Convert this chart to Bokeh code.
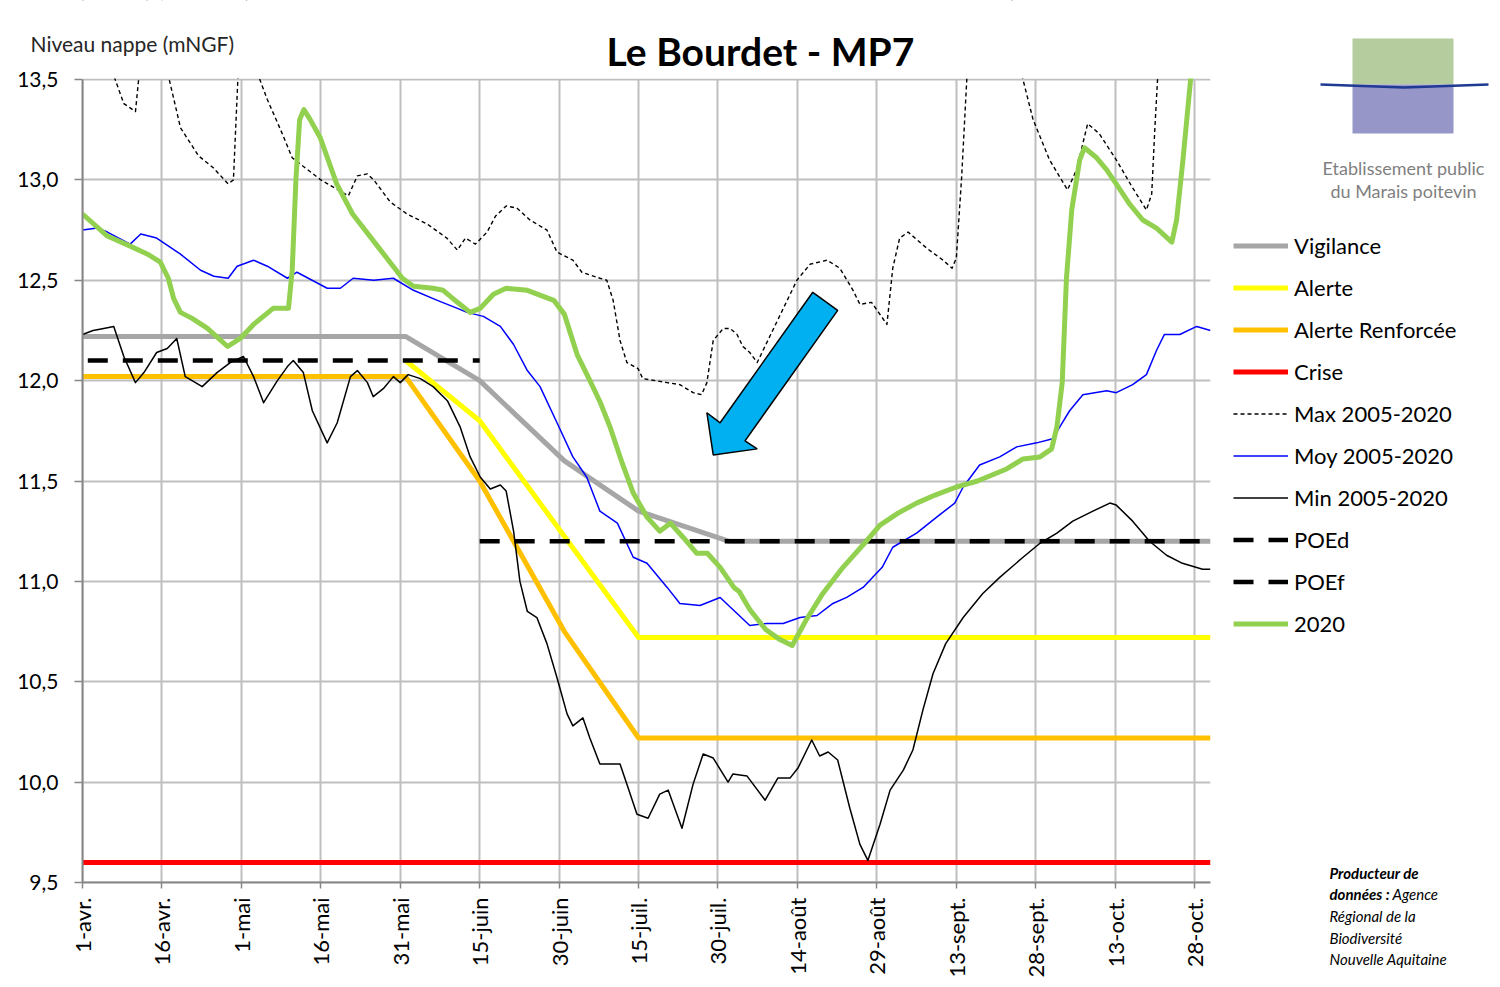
import math
from bokeh.plotting import figure
from bokeh.models import (Range1d, FixedTicker, Legend, LegendItem, Label, Grid,
                          BoxAnnotation, PolyAnnotation)
from bokeh.embed import file_html
from bokeh.resources import INLINE

# ---------------- axes ----------------
tick_days = [0, 15, 30, 45, 60, 75, 90, 105, 120, 135, 150, 165, 180, 195, 210]
tick_labels = ["1-avr.", "16-avr.", "1-mai", "16-mai", "31-mai", "15-juin", "30-juin",
               "15-juil.", "30-juil.", "14-août", "29-août", "13-sept.", "28-sept.",
               "13-oct.", "28-oct."]
y_ticks = [9.5, 10.0, 10.5, 11.0, 11.5, 12.0, 12.5, 13.0, 13.5]
y_tick_labels = ["9,5", "10,0", "10,5", "11,0", "11,5", "12,0", "12,5", "13,0", "13,5"]
DAY_MIN, DAY_MAX = 0, 213
LEVEL_MIN, LEVEL_MAX = 9.5, 13.5

# ---------------- thresholds (day index from 1 April) ----------------
vig_d = [0, 61, 75, 91, 105, 122, 213]
vig_v = [12.22, 12.22, 12.0, 11.6, 11.35, 11.2, 11.2]
alerte_d = [61, 75, 105, 213]
alerte_v = [12.1, 11.8, 10.72, 10.72]
renf_d = [0, 61, 75, 91, 105, 213]
renf_v = [12.02, 12.02, 11.5, 10.75, 10.22, 10.22]
crise_d = [0, 213]
crise_v = [9.6, 9.6]
poed_d = [75, 213]
poed_v = [11.2, 11.2]
poef_d = [1, 75]
poef_v = [12.1, 12.1]

# ---------------- Max 2005-2020 ----------------
max_d = [0, 3, 5.9, 7.8, 10, 10.6, 11.5, 13, 15, 16.2, 18.5, 21.9, 24.7, 27.5, 28.5, 29.5, 31,
         33.2, 34.9, 37.4, 39.6, 45, 50.2, 51.9, 53.8, 55, 58.1, 61.3, 65.1, 68.8, 70.8, 72.3,
         74.2, 76.4, 78, 80, 82, 84.5, 87.7, 89.6, 92.6, 94.3, 97.7, 99, 100.2, 101.5, 102.8,
         104.9, 105.8, 110.4, 112.8, 115.3, 116.9, 117.9, 119.1, 121, 122.3, 123.6, 124.7,
         126, 127.4, 134.9, 137.4, 140.6, 143, 145.5, 146.8, 149, 151.9, 153, 154.3, 155.9,
         159.4, 162.5, 164.2, 165, 166, 167, 169, 172, 175, 177.4, 179.5, 182.6, 186, 187.7,
         189.8, 192, 195.2, 198.3, 200.9, 201.9, 202.5, 203, 205, 209, 213]
max_v = [13.9, 13.7, 13.52, 13.38, 13.34, 13.5, 13.8, 14.0, 13.9, 13.52, 13.26, 13.12, 13.06,
         12.98, 13.0, 13.6, 13.9, 13.52, 13.40, 13.25, 13.11, 13.0, 12.92, 13.02, 13.03, 13.00,
         12.89, 12.83, 12.78, 12.71, 12.65, 12.71, 12.68, 12.74, 12.82, 12.87, 12.86, 12.80,
         12.75, 12.64, 12.60, 12.54, 12.51, 12.50, 12.40, 12.20, 12.09, 12.06, 12.01, 11.99,
         11.98, 11.94, 11.93, 11.99, 12.20, 12.26, 12.26, 12.23, 12.17, 12.14, 12.09, 12.50,
         12.58, 12.60, 12.56, 12.45, 12.38, 12.39, 12.28, 12.56, 12.71, 12.74, 12.66, 12.60,
         12.56, 12.61, 13.01, 13.51, 14.0, 14.2, 14.0, 13.52, 13.30, 13.10, 12.95, 13.05,
         13.28, 13.23, 13.10, 12.96, 12.85, 12.93, 13.26, 13.5, 13.9, 14.1, 14.2]

# ---------------- Moy 2005-2020 ----------------
moy_d = [0, 2.8, 4.7, 9, 11, 14, 18.5, 22.3, 24.8, 27.5, 29.2, 32.3, 34.9, 38.7, 40.5, 46.2,
         48.7, 51.1, 55, 58.7, 62.5, 67, 70.8, 72.6, 75.7, 78.9, 81.4, 84, 86.4, 89.6, 92.6,
         95.2, 97.7, 101, 104, 106.6, 110.4, 112.8, 116.6, 120.4, 122.8, 126, 129.2, 132.3,
         135.5, 138.7, 141.7, 144.3, 147.4, 151, 153, 157.5, 161.3, 164.7, 166.3, 169.4, 173.2,
         176.4, 180.2, 183.2, 185, 186.4, 188.9, 193.4, 195.2, 198.3, 200.9, 202.8, 204.3,
         207.2, 210.4, 213]
moy_v = [12.75, 12.76, 12.74, 12.68, 12.73, 12.71, 12.63, 12.55, 12.52, 12.51, 12.57, 12.60,
         12.57, 12.51, 12.54, 12.46, 12.46, 12.51, 12.50, 12.51, 12.45, 12.40, 12.36, 12.34,
         12.32, 12.27, 12.18, 12.05, 11.97, 11.79, 11.62, 11.52, 11.35, 11.29, 11.12, 11.09,
         10.97, 10.89, 10.88, 10.92, 10.86, 10.78, 10.79, 10.79, 10.82, 10.83, 10.89, 10.92,
         10.97, 11.07, 11.17, 11.24, 11.32, 11.39, 11.47, 11.58, 11.62, 11.67, 11.69, 11.71,
         11.79, 11.85, 11.93, 11.95, 11.94, 11.98, 12.03, 12.15, 12.23, 12.23, 12.27, 12.25]

# ---------------- Min 2005-2020 ----------------
min_d = [0, 2, 4, 5.9, 7.8, 10, 11.6, 14, 16, 17.8, 19.4, 20.7, 22.6, 25.4, 27.9, 30.4, 32.3,
         34.2, 36.8, 38.7, 39.8, 41.7, 43.4, 46.2, 48.1, 50.6, 51.9, 53.8, 54.9, 56.8, 58.7,
         60, 61.5, 63.8, 66.2, 68.9, 71.3, 73.2, 75.1, 77, 78.9, 80, 81.4, 82.6, 84, 85.8,
         87.7, 89.6, 91.5, 92.6, 94.5, 95.8, 97.7, 101.5, 102.8, 104.7, 106.8, 109, 110.6,
         113.2, 115.3, 117.2, 119.1, 121.9, 122.8, 125.5, 128.9, 131.3, 133.6, 135.1, 137.7,
         139.2, 140.8, 142.6, 144.9, 146.8, 148.3, 150.6, 152.5, 155, 156.8, 158.7, 160.6,
         163, 166.3, 170, 173.2, 177.6, 180.8, 184, 187, 190.8, 194, 195.2, 198.3, 201.5,
         204.7, 207.7, 211.5, 213]
min_v = [12.23, 12.25, 12.26, 12.27, 12.12, 11.99, 12.04, 12.14, 12.16, 12.21, 12.02, 12.00,
         11.97, 12.04, 12.09, 12.12, 12.02, 11.89, 12.00, 12.07, 12.10, 12.04, 11.85, 11.69,
         11.79, 12.02, 12.05, 11.99, 11.92, 11.96, 12.02, 11.99, 12.03, 12.01, 11.97, 11.90,
         11.77, 11.62, 11.52, 11.46, 11.48, 11.45, 11.25, 11.00, 10.85, 10.82, 10.69, 10.52,
         10.34, 10.28, 10.32, 10.22, 10.09, 10.09, 9.99, 9.84, 9.82, 9.94, 9.96, 9.77, 9.99,
         10.14, 10.12, 10.00, 10.04, 10.03, 9.91, 10.02, 10.02, 10.07, 10.21, 10.13, 10.15,
         10.11, 9.87, 9.69, 9.61, 9.79, 9.96, 10.06, 10.16, 10.36, 10.54, 10.69, 10.82, 10.94,
         11.02, 11.12, 11.19, 11.24, 11.30, 11.35, 11.39, 11.38, 11.30, 11.20, 11.13, 11.09,
         11.06, 11.06]

# ---------------- 2020 ----------------
y2020_d = [0, 4.7, 9, 12.3, 14.7, 16.2, 17.2, 18.5, 20.7, 23.6, 27.4, 29.8, 32.3, 36, 38.9,
           39.6, 40.3, 41, 41.8, 43, 44.9, 48, 51, 56, 60.4, 62.5, 66.2, 68.1, 70.8, 73.2, 75.1,
           77.6, 80, 84, 89, 91, 93.4, 96, 97.8, 99.6, 101.9, 104, 106.6, 109, 111, 113.4, 116,
           118, 120.4, 123, 124, 126, 129, 131.7, 134, 136.7, 139.8, 143.6, 148, 150.6, 154,
           157.5, 161, 165, 169, 174.5, 177.6, 180.8, 183, 184, 185, 185.8, 186.8, 188.3,
           189.2, 191.5, 193.4, 195.2, 197.7, 200.2, 202.8, 205.7, 206.6, 207.8, 208.7, 209.6,
           210.5]
y2020_v = [12.83, 12.72, 12.67, 12.63, 12.59, 12.51, 12.41, 12.34, 12.31, 12.26, 12.17, 12.21,
           12.28, 12.36, 12.36, 12.55, 13.0, 13.3, 13.35, 13.3, 13.21, 12.98, 12.83, 12.66,
           12.51, 12.47, 12.46, 12.45, 12.39, 12.34, 12.36, 12.43, 12.46, 12.45, 12.40, 12.33,
           12.13, 11.99, 11.89, 11.77, 11.59, 11.44, 11.32, 11.25, 11.29, 11.22, 11.14, 11.14,
           11.07, 10.97, 10.95, 10.86, 10.76, 10.71, 10.68, 10.81, 10.94, 11.07, 11.20, 11.28,
           11.34, 11.39, 11.43, 11.47, 11.50, 11.56, 11.61, 11.62, 11.66, 11.77, 11.99, 12.51,
           12.85, 13.10, 13.16, 13.11, 13.05, 12.98, 12.88, 12.80, 12.76, 12.69, 12.80, 13.10,
           13.35, 13.6, 13.8]

# ---------------- block arrow (day, level) ----------------
arrow_d = [137.9, 142.6, 125.1, 127.4, 119.1, 117.9, 120.4]
arrow_v = [12.44, 12.35, 11.70, 11.66, 11.63, 11.84, 11.79]

FONT = "Lato"

series_styles = [
    ("Vigilance", "#A6A6A6", 5, "solid"),
    ("Alerte", "#FFFF00", 5, "solid"),
    ("Alerte Renforcée", "#FFC000", 5, "solid"),
    ("Crise", "#FF0000", 5, "solid"),
    ("Max 2005-2020", "#000000", 1.4, "4 3"),
    ("Moy 2005-2020", "#0000FF", 1.5, "solid"),
    ("Min 2005-2020", "#000000", 1.5, "solid"),
    ("POEd", "#000000", 4.5, "20 15"),
    ("POEf", "#000000", 4.5, "20 15"),
    ("2020", "#92D050", 5, "solid"),
]
series_data = [(vig_d, vig_v), (alerte_d, alerte_v), (renf_d, renf_v), (crise_d, crise_v),
               (max_d, max_v), (moy_d, moy_v), (min_d, min_v), (poed_d, poed_v),
               (poef_d, poef_v), (y2020_d, y2020_v)]

# ---------------- page geometry ----------------
W, H = 1500, 987
PLOT_LEFT, PLOT_TOP, PLOT_RIGHT, PLOT_BOTTOM = 82, 79, 1210, 882   # pixels of the plot area
px_day = (PLOT_RIGHT - PLOT_LEFT) / (DAY_MAX - DAY_MIN)
px_lvl = (PLOT_BOTTOM - PLOT_TOP) / (LEVEL_MAX - LEVEL_MIN)
x0 = DAY_MIN - PLOT_LEFT / px_day
x1 = x0 + W / px_day
y1 = LEVEL_MAX + PLOT_TOP / px_lvl
y0 = y1 - H / px_lvl

# the whole canvas is the frame; axes are pinned at the plot-area edges
p = figure(width=W, height=H, x_range=Range1d(x0, x1), y_range=Range1d(y0, y1),
           output_backend="svg", toolbar_location=None)
p.title.visible = False
p.min_border = 0
p.outline_line_color = None
p.background_fill_color = "white"
p.border_fill_color = "white"

p.xaxis.ticker = FixedTicker(ticks=tick_days)
p.xaxis.major_label_overrides = {d: lab for d, lab in zip(tick_days, tick_labels)}
p.xaxis.major_label_orientation = math.pi / 2
p.xaxis.fixed_location = LEVEL_MIN
p.xaxis.bounds = (DAY_MIN, DAY_MAX)
p.yaxis.ticker = FixedTicker(ticks=y_ticks)
p.yaxis.major_label_overrides = {t: lab for t, lab in zip(y_ticks, y_tick_labels)}
p.yaxis.fixed_location = DAY_MIN
p.yaxis.bounds = (LEVEL_MIN, LEVEL_MAX)
for ax in (p.xaxis, p.yaxis):
    ax.level = "overlay"
    ax.axis_line_color = "#868686"
    ax.axis_line_width = 2
    ax.major_tick_line_color = "#868686"
    ax.major_tick_line_width = 1.5
    ax.minor_tick_line_color = None
    ax.major_tick_in = 0
    ax.major_label_text_font = FONT
    ax.major_label_text_color = "#000000"
p.xaxis.major_label_text_font_size = "22px"
p.yaxis.major_label_text_font_size = "21px"
p.xaxis.major_tick_out = 6
p.xaxis.major_label_standoff = 9
p.yaxis.major_tick_out = 8
p.yaxis.major_label_standoff = 16
p.xgrid.grid_line_color = "#BFBFBF"
p.ygrid.grid_line_color = "#BFBFBF"
p.xgrid.grid_line_width = 2
p.ygrid.grid_line_width = 2
if "cross_bounds" in Grid.properties():
    p.xgrid.cross_bounds = (LEVEL_MIN, LEVEL_MAX)
    p.ygrid.cross_bounds = (DAY_MIN, DAY_MAX)

renderers = []
for (name, col, w, dash), (xd, yv) in zip(series_styles, series_data):
    renderers.append(p.line(xd, yv, line_color=col, line_width=w, line_dash=dash,
                            line_join="round"))
p.patch(arrow_d, arrow_v, fill_color="#00B0F0", line_color="#000000", line_width=1.5)

# white margins around the plot area (hide curves outside it)
edge = 1.0 / px_lvl
pad_x, pad_y = 10.0, 1.0
covers = [
    dict(left=x0 - pad_x, right=x1 + pad_x, bottom=LEVEL_MAX + edge, top=y1 + pad_y),
    dict(left=x0 - pad_x, right=x1 + pad_x, bottom=y0 - pad_y, top=LEVEL_MIN),
    dict(left=x0 - pad_x, right=DAY_MIN, bottom=y0 - pad_y, top=y1 + pad_y),
    dict(left=DAY_MAX, right=x1 + pad_x, bottom=y0 - pad_y, top=y1 + pad_y),
]
for kw in covers:
    p.add_layout(BoxAnnotation(fill_color="white", fill_alpha=1, line_color=None, **kw))


def S(y_from_top):
    return H - y_from_top


def label(x, y, text, size, **kw):
    p.add_layout(Label(x=x, y=S(y), x_units="screen", y_units="screen", text=text,
                       text_font=FONT, text_font_size=size, text_baseline="middle", **kw))


# title and axis title
label(760, 50, "Le Bourdet - MP7", "39px", text_font_style="bold", text_align="center",
      text_color="#000000")
label(30, 43, "Niveau nappe (mNGF)", "21px", text_color="#262626")

# logo
for top, bottom, col in ((38, 84, "#B5CC9E"), (84, 133, "#9696C8")):
    p.add_layout(BoxAnnotation(left=1352, right=1453, top=S(top), bottom=S(bottom),
                               left_units="screen", right_units="screen",
                               top_units="screen", bottom_units="screen",
                               fill_color=col, fill_alpha=1, line_color=None))
p.add_layout(PolyAnnotation(xs=[1320, 1404, 1488, 1404], ys=[S(84), S(87), S(84), S(87)],
                            xs_units="screen", ys_units="screen",
                            fill_alpha=0, line_color="#1F3A93", line_alpha=1,
                            line_width=2.5))
label(1403, 167, "Etablissement public", "18px", text_align="center", text_color="#7F7F7F")
label(1403, 190, "du Marais poitevin", "18px", text_align="center", text_color="#7F7F7F")

# legend
items = [LegendItem(label=s[0], renderers=[r]) for s, r in zip(series_styles, renderers)]
legend = Legend(items=items, location=(1233, 350))
legend.label_text_font = FONT
legend.label_text_font_size = "22px"
legend.label_text_color = "#000000"
legend.glyph_width = 55
legend.glyph_height = 27
legend.label_height = 27
legend.spacing = 15
legend.padding = 0
legend.margin = 0
legend.label_standoff = 6
legend.border_line_color = None
legend.background_fill_alpha = 0
p.add_layout(legend)

# data producer note
label(1329, 872, "Producteur de", "15px", text_font_style="bold italic", text_color="#000000")
label(1329, 893, "données :", "15px", text_font_style="bold italic", text_color="#000000")
label(1392, 893, "Agence", "15px", text_font_style="italic", text_color="#000000")
label(1329, 915, "Régional de la", "15px", text_font_style="italic", text_color="#000000")
label(1329, 937, "Biodiversité", "15px", text_font_style="italic", text_color="#000000")
label(1329, 958, "Nouvelle Aquitaine", "15px", text_font_style="italic", text_color="#000000")

open("out.html", "w").write(file_html(p, INLINE))
